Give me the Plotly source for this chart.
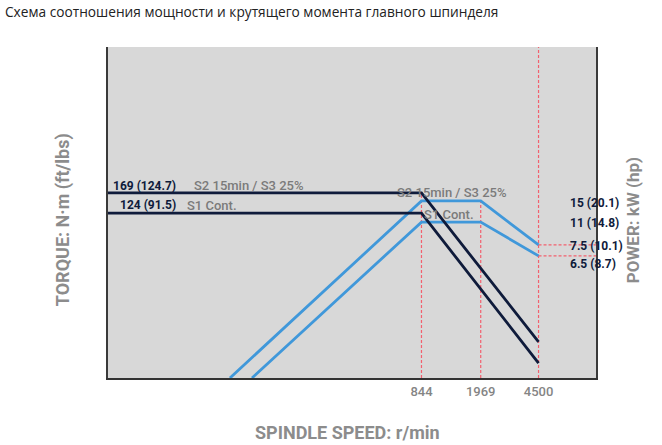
import plotly.graph_objects as go

title_text = "Схема соотношения мощности и крутящего момента главного шпинделя"

# spindle speed axis (r/min, log scale)
speed_ticks = [844, 1969, 4500]
speed_tick_text = ["844", "1969", "4500"]
x_range_log = [0.98, 4.01]

# schematic heights in % of the chart height
torque_s2_speed = [9.55, 844, 4500]
torque_s2_level = [55.9, 55.9, 10.9]
torque_s1_speed = [9.55, 844, 4500]
torque_s1_level = [49.8, 49.8, 4.5]

power_s2_speed = [54.6, 844, 1969, 4500]
power_s2_level = [0, 53.5, 53.5, 40.2]
power_s1_speed = [74.8, 844, 1969, 4500]
power_s1_level = [0, 47.1, 47.1, 36.9]

torque_labels = ["169 (124.7)", "124 (91.5)"]
mode_labels = ["S2 15min / S3 25%", "S1 Cont."]
power_labels = ["15 (20.1)", "11 (14.8)", "7.5 (10.1)", "6.5 (8.7)"]

NAVY = "#0f1b3b"
BLUE = "#4098da"
RED = "#f2606e"
GREY_TXT = "#7b7b7b"
AXIS_TXT = "#8c8c8c"
FONT = "Roboto"

fig = go.Figure()

# red reference lines
x_right = 10 ** x_range_log[1]
ref_lines = [
    ([844, 844], [0, torque_s2_level[1]]),
    ([1969, 1969], [0, power_s2_level[1]]),
    ([4500, 4500], [0, 100]),
    ([4500, x_right], [power_s2_level[-1]] * 2),
    ([4500, x_right], [power_s1_level[-1]] * 2),
]
for xs, ys in ref_lines:
    fig.add_trace(go.Scatter(x=xs, y=ys, mode="lines", hoverinfo="skip",
                             line=dict(color=RED, width=1.2, dash="3px,2px")))

for xs, ys in [(power_s2_speed, power_s2_level), (power_s1_speed, power_s1_level)]:
    fig.add_trace(go.Scatter(x=xs, y=ys, mode="lines", line=dict(color=BLUE, width=2.8)))

for xs, ys in [(torque_s2_speed, torque_s2_level), (torque_s1_speed, torque_s1_level)]:
    fig.add_trace(go.Scatter(x=xs, y=ys, mode="lines", line=dict(color=NAVY, width=2.8)))

ann = []
# left torque values and modes
for lab, lvl, sh in zip(torque_labels, [torque_s2_level[0], torque_s1_level[0]], [7, 8]):
    ann.append(dict(x=0.143, y=lvl, xref="paper", yref="y", xanchor="right", yanchor="middle",
                    yshift=sh, text="<b>%s</b>" % lab, showarrow=False,
                    font=dict(family=FONT, size=12, color=NAVY)))
for lab, lvl, xp, sh in zip(mode_labels, [torque_s2_level[0], torque_s1_level[0]], [0.172, 0.158], [7, 8]):
    ann.append(dict(x=xp, y=lvl, xref="paper", yref="y", xanchor="left", yanchor="middle",
                    yshift=sh, text=lab, showarrow=False,
                    font=dict(family=FONT, size=13, color=GREY_TXT, weight=500)))
# mode labels in the middle
for lab, lvl, xp, sh in zip(mode_labels, [torque_s2_level[1], torque_s1_level[1]], [0.588, 0.643], [0, -1]):
    ann.append(dict(x=xp, y=lvl, xref="paper", yref="y", xanchor="left", yanchor="middle",
                    yshift=sh, text=lab, showarrow=False,
                    font=dict(family=FONT, size=13, color=GREY_TXT, weight=500)))
# power values on the right
power_lvls = [power_s2_level[1], power_s1_level[1], power_s2_level[-1], power_s1_level[-1]]
for lab, lvl, sh in zip(power_labels, power_lvls, [-2, -1, -1, -8]):
    ann.append(dict(x=0.9426, y=lvl, xref="paper", yref="y", xanchor="left", yanchor="middle",
                    yshift=sh, text="<b>%s</b>" % lab, showarrow=False,
                    font=dict(family=FONT, size=12, color=NAVY)))

# axis titles
ann.append(dict(x=0.49, y=-0.166, xref="paper", yref="paper", xanchor="center", yanchor="middle",
                text="<b>SPINDLE SPEED: r/min</b>", showarrow=False,
                font=dict(family=FONT, size=18, color=AXIS_TXT)))
ann.append(dict(x=-0.092, y=0.477, xref="paper", yref="paper", xanchor="center", yanchor="middle",
                text="<b>TORQUE: N·m (ft/lbs)</b>", textangle=-90, showarrow=False,
                font=dict(family=FONT, size=18, color=AXIS_TXT)))
ann.append(dict(x=1.076, y=0.477, xref="paper", yref="paper", xanchor="center", yanchor="middle",
                text="<b>POWER: kW (hp)</b>", textangle=-90, showarrow=False,
                font=dict(family=FONT, size=17, color=AXIS_TXT)))

fig.update_layout(
    width=662, height=445,
    margin=dict(l=108, r=66, t=47, b=67),
    paper_bgcolor="white",
    plot_bgcolor="#d8d8d8",
    showlegend=False,
    title=dict(text=title_text, x=5 / 662, xref="container", xanchor="left",
               y=1 - 12 / 445, yanchor="middle",
               font=dict(family="Open Sans", size=13.7, color="#222222")),
    annotations=ann,
    xaxis=dict(type="log", range=x_range_log, tickvals=speed_ticks, ticktext=speed_tick_text,
               showgrid=False, zeroline=False, showline=True, linecolor="#333333", linewidth=2,
               ticks="", tickfont=dict(family=FONT, size=13, color="#858585", weight=500), fixedrange=True),
    yaxis=dict(range=[0, 100], showgrid=False, zeroline=False, showticklabels=False,
               showline=True, mirror=True, linecolor="#3a3a3a", linewidth=2, ticks="", fixedrange=True),
)

# drop the browser's default 8px body margin so the figure fills the window
fig.write_html("out.html", config={"displayModeBar": False},
               post_script="document.body.style.margin = '0';")
